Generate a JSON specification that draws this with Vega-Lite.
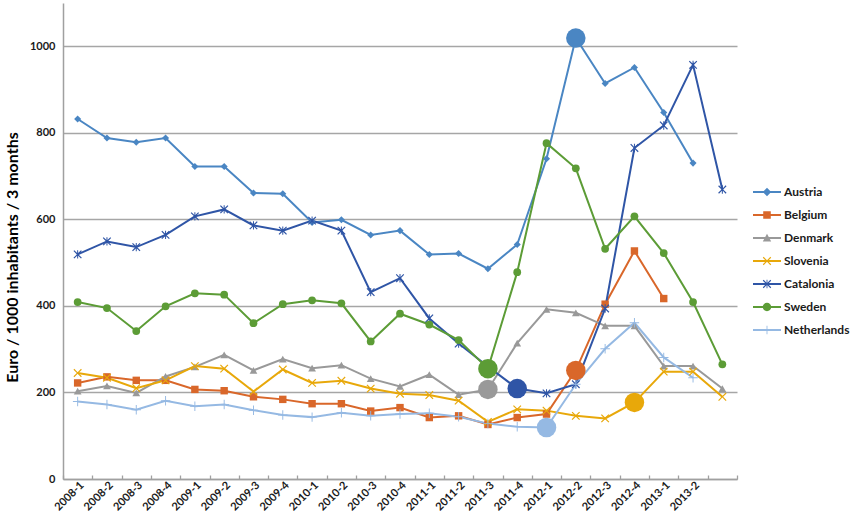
{
  "$schema": "https://vega.github.io/schema/vega-lite/v6.json",
  "width": 674,
  "height": 476,
  "autosize": "none",
  "padding": {"left": 63, "top": 3, "right": 114, "bottom": 44},
  "background": "white",
  "config": {"view": {"stroke": null}, "font": "Lato"},
  "data": {"values": [
    {"country":"Austria","period":"2008-1","value":832},
    {"country":"Austria","period":"2008-2","value":788},
    {"country":"Austria","period":"2008-3","value":778},
    {"country":"Austria","period":"2008-4","value":788},
    {"country":"Austria","period":"2009-1","value":722},
    {"country":"Austria","period":"2009-2","value":722},
    {"country":"Austria","period":"2009-3","value":661},
    {"country":"Austria","period":"2009-4","value":659},
    {"country":"Austria","period":"2010-1","value":593},
    {"country":"Austria","period":"2010-2","value":599},
    {"country":"Austria","period":"2010-3","value":564},
    {"country":"Austria","period":"2010-4","value":574},
    {"country":"Austria","period":"2011-1","value":519},
    {"country":"Austria","period":"2011-2","value":521},
    {"country":"Austria","period":"2011-3","value":486},
    {"country":"Austria","period":"2011-4","value":542},
    {"country":"Austria","period":"2012-1","value":740},
    {"country":"Austria","period":"2012-2","value":1019,"marked":true},
    {"country":"Austria","period":"2012-3","value":914},
    {"country":"Austria","period":"2012-4","value":951},
    {"country":"Austria","period":"2013-1","value":847},
    {"country":"Austria","period":"2013-2","value":730},
    {"country":"Belgium","period":"2008-1","value":222},
    {"country":"Belgium","period":"2008-2","value":236},
    {"country":"Belgium","period":"2008-3","value":228},
    {"country":"Belgium","period":"2008-4","value":228},
    {"country":"Belgium","period":"2009-1","value":207},
    {"country":"Belgium","period":"2009-2","value":204},
    {"country":"Belgium","period":"2009-3","value":190},
    {"country":"Belgium","period":"2009-4","value":184},
    {"country":"Belgium","period":"2010-1","value":174},
    {"country":"Belgium","period":"2010-2","value":174},
    {"country":"Belgium","period":"2010-3","value":157},
    {"country":"Belgium","period":"2010-4","value":165},
    {"country":"Belgium","period":"2011-1","value":142},
    {"country":"Belgium","period":"2011-2","value":146},
    {"country":"Belgium","period":"2011-3","value":126},
    {"country":"Belgium","period":"2011-4","value":142},
    {"country":"Belgium","period":"2012-1","value":150},
    {"country":"Belgium","period":"2012-2","value":251,"marked":true},
    {"country":"Belgium","period":"2012-3","value":404},
    {"country":"Belgium","period":"2012-4","value":527},
    {"country":"Belgium","period":"2013-1","value":417},
    {"country":"Denmark","period":"2008-1","value":203},
    {"country":"Denmark","period":"2008-2","value":215},
    {"country":"Denmark","period":"2008-3","value":199},
    {"country":"Denmark","period":"2008-4","value":237},
    {"country":"Denmark","period":"2009-1","value":259},
    {"country":"Denmark","period":"2009-2","value":287},
    {"country":"Denmark","period":"2009-3","value":251},
    {"country":"Denmark","period":"2009-4","value":277},
    {"country":"Denmark","period":"2010-1","value":256},
    {"country":"Denmark","period":"2010-2","value":263},
    {"country":"Denmark","period":"2010-3","value":232},
    {"country":"Denmark","period":"2010-4","value":214},
    {"country":"Denmark","period":"2011-1","value":241},
    {"country":"Denmark","period":"2011-2","value":195},
    {"country":"Denmark","period":"2011-3","value":207,"marked":true},
    {"country":"Denmark","period":"2011-4","value":314},
    {"country":"Denmark","period":"2012-1","value":392},
    {"country":"Denmark","period":"2012-2","value":384},
    {"country":"Denmark","period":"2012-3","value":354},
    {"country":"Denmark","period":"2012-4","value":354},
    {"country":"Denmark","period":"2013-1","value":261},
    {"country":"Denmark","period":"2013-2","value":261},
    {"country":"Denmark","period":"2013-3","value":209},
    {"country":"Slovenia","period":"2008-1","value":245},
    {"country":"Slovenia","period":"2008-2","value":234},
    {"country":"Slovenia","period":"2008-3","value":210},
    {"country":"Slovenia","period":"2008-4","value":228},
    {"country":"Slovenia","period":"2009-1","value":261},
    {"country":"Slovenia","period":"2009-2","value":255},
    {"country":"Slovenia","period":"2009-3","value":202},
    {"country":"Slovenia","period":"2009-4","value":253},
    {"country":"Slovenia","period":"2010-1","value":222},
    {"country":"Slovenia","period":"2010-2","value":227},
    {"country":"Slovenia","period":"2010-3","value":209},
    {"country":"Slovenia","period":"2010-4","value":197},
    {"country":"Slovenia","period":"2011-1","value":194},
    {"country":"Slovenia","period":"2011-2","value":181},
    {"country":"Slovenia","period":"2011-3","value":132},
    {"country":"Slovenia","period":"2011-4","value":161},
    {"country":"Slovenia","period":"2012-1","value":158},
    {"country":"Slovenia","period":"2012-2","value":146},
    {"country":"Slovenia","period":"2012-3","value":140},
    {"country":"Slovenia","period":"2012-4","value":177,"marked":true},
    {"country":"Slovenia","period":"2013-1","value":248},
    {"country":"Slovenia","period":"2013-2","value":248},
    {"country":"Slovenia","period":"2013-3","value":190},
    {"country":"Catalonia","period":"2008-1","value":519},
    {"country":"Catalonia","period":"2008-2","value":549},
    {"country":"Catalonia","period":"2008-3","value":536},
    {"country":"Catalonia","period":"2008-4","value":564},
    {"country":"Catalonia","period":"2009-1","value":607},
    {"country":"Catalonia","period":"2009-2","value":623},
    {"country":"Catalonia","period":"2009-3","value":586},
    {"country":"Catalonia","period":"2009-4","value":574},
    {"country":"Catalonia","period":"2010-1","value":597},
    {"country":"Catalonia","period":"2010-2","value":574},
    {"country":"Catalonia","period":"2010-3","value":432},
    {"country":"Catalonia","period":"2010-4","value":464},
    {"country":"Catalonia","period":"2011-1","value":371},
    {"country":"Catalonia","period":"2011-2","value":313},
    {"country":"Catalonia","period":"2011-3","value":260},
    {"country":"Catalonia","period":"2011-4","value":209,"marked":true},
    {"country":"Catalonia","period":"2012-1","value":198},
    {"country":"Catalonia","period":"2012-2","value":219},
    {"country":"Catalonia","period":"2012-3","value":394},
    {"country":"Catalonia","period":"2012-4","value":765},
    {"country":"Catalonia","period":"2013-1","value":817},
    {"country":"Catalonia","period":"2013-2","value":957},
    {"country":"Catalonia","period":"2013-3","value":669},
    {"country":"Sweden","period":"2008-1","value":409},
    {"country":"Sweden","period":"2008-2","value":395},
    {"country":"Sweden","period":"2008-3","value":342},
    {"country":"Sweden","period":"2008-4","value":399},
    {"country":"Sweden","period":"2009-1","value":429},
    {"country":"Sweden","period":"2009-2","value":426},
    {"country":"Sweden","period":"2009-3","value":360},
    {"country":"Sweden","period":"2009-4","value":404},
    {"country":"Sweden","period":"2010-1","value":413},
    {"country":"Sweden","period":"2010-2","value":406},
    {"country":"Sweden","period":"2010-3","value":318},
    {"country":"Sweden","period":"2010-4","value":382},
    {"country":"Sweden","period":"2011-1","value":357},
    {"country":"Sweden","period":"2011-2","value":321},
    {"country":"Sweden","period":"2011-3","value":255,"marked":true},
    {"country":"Sweden","period":"2011-4","value":478},
    {"country":"Sweden","period":"2012-1","value":776},
    {"country":"Sweden","period":"2012-2","value":718},
    {"country":"Sweden","period":"2012-3","value":532},
    {"country":"Sweden","period":"2012-4","value":607},
    {"country":"Sweden","period":"2013-1","value":522},
    {"country":"Sweden","period":"2013-2","value":409},
    {"country":"Sweden","period":"2013-3","value":265},
    {"country":"Netherlands","period":"2008-1","value":179},
    {"country":"Netherlands","period":"2008-2","value":172},
    {"country":"Netherlands","period":"2008-3","value":160},
    {"country":"Netherlands","period":"2008-4","value":181},
    {"country":"Netherlands","period":"2009-1","value":168},
    {"country":"Netherlands","period":"2009-2","value":172},
    {"country":"Netherlands","period":"2009-3","value":159},
    {"country":"Netherlands","period":"2009-4","value":148},
    {"country":"Netherlands","period":"2010-1","value":143},
    {"country":"Netherlands","period":"2010-2","value":153},
    {"country":"Netherlands","period":"2010-3","value":146},
    {"country":"Netherlands","period":"2010-4","value":150},
    {"country":"Netherlands","period":"2011-1","value":152},
    {"country":"Netherlands","period":"2011-2","value":144},
    {"country":"Netherlands","period":"2011-3","value":128},
    {"country":"Netherlands","period":"2011-4","value":121},
    {"country":"Netherlands","period":"2012-1","value":119,"marked":true},
    {"country":"Netherlands","period":"2012-2","value":219},
    {"country":"Netherlands","period":"2012-3","value":301},
    {"country":"Netherlands","period":"2012-4","value":361},
    {"country":"Netherlands","period":"2013-1","value":281},
    {"country":"Netherlands","period":"2013-2","value":234}
  ]},
  "encoding": {
    "x": {
      "field": "period", "type": "ordinal", "bandPosition": 0.5,
      "scale": {"type": "band", "paddingInner": 0, "paddingOuter": 0,
        "domain": ["2008-1","2008-2","2008-3","2008-4","2009-1","2009-2","2009-3","2009-4","2010-1","2010-2","2010-3","2010-4","2011-1","2011-2","2011-3","2011-4","2012-1","2012-2","2012-3","2012-4","2013-1","2013-2","2013-3"]},
      "axis": {
        "title": null, "labelAngle": -45, "labelAlign": "right", "labelBaseline": "top",
        "labelExpr": "datum.value == '2013-3' ? '' : datum.value",
        "labelFont": "Lato", "labelFontSize": 11, "labelFontWeight": "bold", "labelColor": "#1a1a1a",
        "labelPadding": 4, "tickBand": "extent", "ticks": true, "tickSize": -4, "tickColor": "#a0a0a0", "tickWidth": 1.3,
        "domainColor": "#a0a0a0", "domainWidth": 1.5, "grid": false
      }
    },
    "y": {
      "field": "value", "type": "quantitative",
      "scale": {"domain": [0, 1100], "nice": false},
      "axis": {
        "title": "Euro / 1000 inhabitants / 3 months",
        "titleFont": "Lato", "titleFontSize": 16, "titleFontWeight": "bold", "titleColor": "#000000",
        "titleX": -51, "titleY": 254, "titleBaseline": "middle", "titleAngle": -90, "titleAlign": "center",
        "values": [0, 200, 400, 600, 800, 1000], "format": "d",
        "labelFont": "Lato", "labelFontSize": 11, "labelFontWeight": "bold", "labelColor": "#1a1a1a", "labelPadding": 8,
        "ticks": false, "grid": true, "gridColor": "#a6a6a6", "gridWidth": 1.5,
        "domainColor": "#a0a0a0", "domainWidth": 1.5
      }
    },
    "color": {
      "field": "country", "type": "nominal",
      "scale": {
        "domain": ["Austria","Belgium","Denmark","Slovenia","Catalonia","Sweden","Netherlands"],
        "range": ["#4a86c3","#d9672a","#999999","#e8a80a","#2f55a6","#5c9c36","#95b9e3"]
      },
      "legend": {
        "title": null, "orient": "none", "legendX": 690, "legendY": 175,
        "labelFont": "Lato", "labelFontSize": 12, "labelFontWeight": "bold", "labelColor": "#1a1a1a",
        "symbolSize": 784, "labelOffset": 3, "rowPadding": 3,
        "encode": {
          "symbols": {
            "update": {
              "fill": {"scale": "color", "field": "value"},
              "stroke": {"value": "transparent"},
              "strokeWidth": {"value": 0},
              "opacity": {"value": 1},
              "shape": {"signal": "datum.value == 'Austria' ? 'M-1,-0.07L1,-0.07L1,0.07L-1,0.07ZM-0.3,0L0,-0.3L0.3,0L0,0.3Z' : datum.value == 'Belgium' ? 'M-1,-0.07L1,-0.07L1,0.07L-1,0.07ZM-0.27,-0.27L0.27,-0.27L0.27,0.27L-0.27,0.27Z' : datum.value == 'Denmark' ? 'M-1,-0.07L1,-0.07L1,0.07L-1,0.07ZM0,-0.3L0.3,0.25L-0.3,0.25Z' : datum.value == 'Slovenia' ? 'M-1,-0.07L1,-0.07L1,0.07L-1,0.07ZM-0.3,-0.24L-0.24,-0.3L0,-0.06L0.24,-0.3L0.3,-0.24L0.06,0L0.3,0.24L0.24,0.3L0,0.06L-0.24,0.3L-0.3,0.24L-0.06,0Z' : datum.value == 'Catalonia' ? 'M-1,-0.07L1,-0.07L1,0.07L-1,0.07ZM-0.3,-0.24L-0.24,-0.3L0,-0.06L0.24,-0.3L0.3,-0.24L0.06,0L0.3,0.24L0.24,0.3L0,0.06L-0.24,0.3L-0.3,0.24L-0.06,0ZM-0.03,-0.3L0.03,-0.3L0.03,0.3L-0.03,0.3Z' : datum.value == 'Sweden' ? 'M-1,-0.07L1,-0.07L1,0.07L-1,0.07ZM-0.3,0A0.3,0.3 0 1,1 0.3,0A0.3,0.3 0 1,1 -0.3,0Z' : 'M-1,-0.07L1,-0.07L1,0.07L-1,0.07ZM-0.3,-0.03L-0.03,-0.03L-0.03,-0.3L0.03,-0.3L0.03,-0.03L0.3,-0.03L0.3,0.03L0.03,0.03L0.03,0.3L-0.03,0.3L-0.03,0.03L-0.3,0.03Z'"}
            }
          }
        }
      }
    }
  },
  "layer": [
    {
      "mark": {"type": "line", "strokeWidth": 2},
      "encoding": {"detail": {"field": "country"}}
    },
    {
      "transform": [{"filter": "datum.country == 'Austria'"}],
      "mark": {"type": "point", "filled": true, "opacity": 1, "size": 50, "shape": "diamond"}
    },
    {
      "transform": [{"filter": "datum.country == 'Belgium'"}],
      "mark": {"type": "point", "filled": true, "opacity": 1, "size": 55, "shape": "square"}
    },
    {
      "transform": [{"filter": "datum.country == 'Denmark'"}],
      "mark": {"type": "point", "filled": true, "opacity": 1, "size": 60, "shape": "triangle-up"}
    },
    {
      "transform": [{"filter": "datum.country == 'Slovenia'"}],
      "mark": {"type": "point", "filled": true, "opacity": 1, "size": 70, "shape": "M-1,-0.8L-0.8,-1L0,-0.2L0.8,-1L1,-0.8L0.2,0L1,0.8L0.8,1L0,0.2L-0.8,1L-1,0.8L-0.2,0Z"}
    },
    {
      "transform": [{"filter": "datum.country == 'Catalonia'"}],
      "mark": {"type": "point", "filled": true, "opacity": 1, "size": 70, "shape": "M-1,-0.8L-0.8,-1L0,-0.2L0.8,-1L1,-0.8L0.2,0L1,0.8L0.8,1L0,0.2L-0.8,1L-1,0.8L-0.2,0ZM-0.12,-1L0.12,-1L0.12,1L-0.12,1Z"}
    },
    {
      "transform": [{"filter": "datum.country == 'Sweden'"}],
      "mark": {"type": "point", "filled": true, "opacity": 1, "size": 60, "shape": "circle"}
    },
    {
      "transform": [{"filter": "datum.country == 'Netherlands'"}],
      "mark": {"type": "point", "filled": true, "opacity": 1, "size": 90, "shape": "M-1,-0.1L-0.1,-0.1L-0.1,-1L0.1,-1L0.1,-0.1L1,-0.1L1,0.1L0.1,0.1L0.1,1L-0.1,1L-0.1,0.1L-1,0.1Z"}
    },
    {
      "transform": [{"filter": "datum.marked === true"}],
      "mark": {"type": "point", "filled": true, "opacity": 1, "size": 380, "shape": "circle"}
    }
  ]
}
